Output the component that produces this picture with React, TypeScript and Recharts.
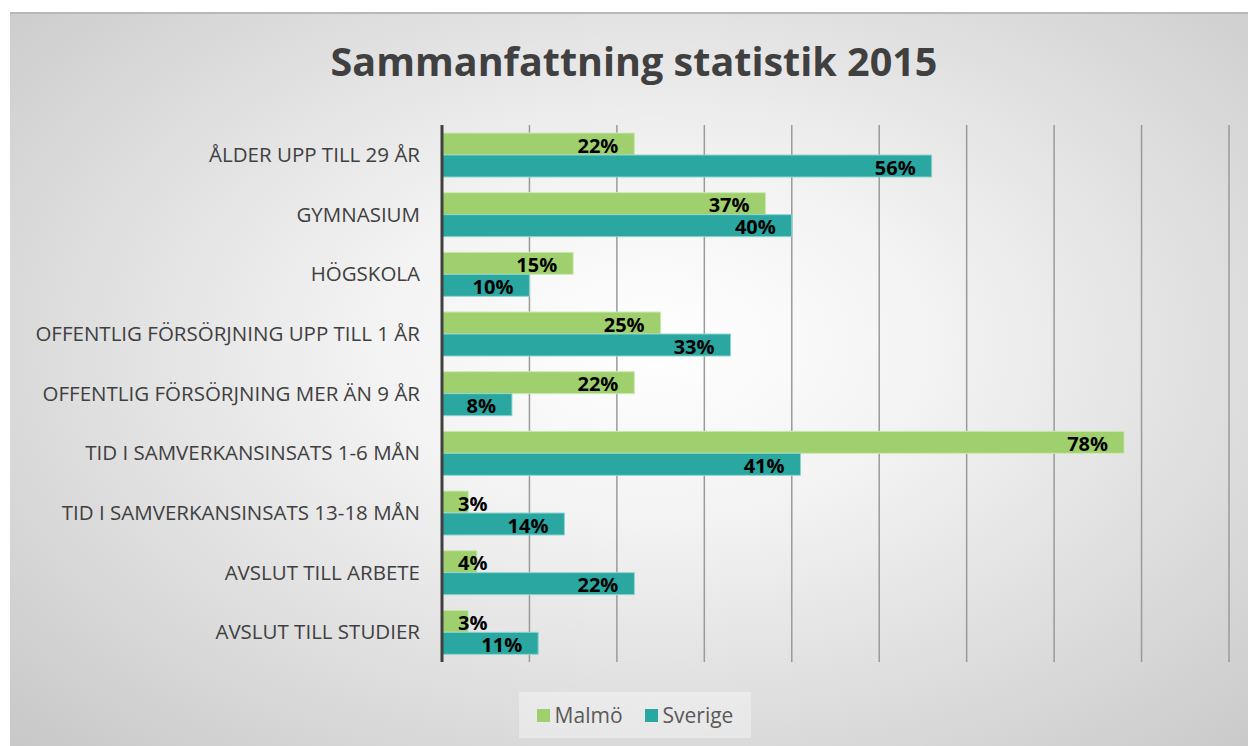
import React from "react";
import {
  BarChart,
  Bar,
  XAxis,
  YAxis,
  CartesianGrid,
  LabelList,
} from "recharts";

const categories = [
  "ÅLDER UPP TILL 29 ÅR",
  "GYMNASIUM",
  "HÖGSKOLA",
  "OFFENTLIG FÖRSÖRJNING UPP TILL 1 ÅR",
  "OFFENTLIG FÖRSÖRJNING MER ÄN 9 ÅR",
  "TID I SAMVERKANSINSATS 1-6 MÅN",
  "TID I SAMVERKANSINSATS 13-18 MÅN",
  "AVSLUT TILL ARBETE",
  "AVSLUT TILL STUDIER",
];
const malmo = [22, 37, 15, 25, 22, 78, 3, 4, 3];
const sverige = [56, 40, 10, 33, 8, 41, 14, 22, 11];
const xTicks = [0, 10, 20, 30, 40, 50, 60, 70, 80, 90];

const GREEN = "#a0d06e";
const TEAL = "#29a7a0";
const FONT = "'Open Sans', sans-serif";

const data = categories.map((name, i) => ({
  name,
  malmo: malmo[i],
  sverige: sverige[i],
}));

// Excel style "inside end" label; small bars push the text to the start
const BarLabel = (props: any) => {
  const { x, y, width, height, value } = props;
  const text = `${value}%`;
  const textW = text.length * 14;
  const inside = width >= textW + 32;
  return (
    <text
      x={inside ? x + width - 16 : x + 16}
      y={y + height / 2 + 1}
      textAnchor={inside ? "end" : "start"}
      dominantBaseline="central"
      fontFamily={FONT}
      fontWeight={700}
      fontSize={20}
      fill="#000"
    >
      {text}
    </text>
  );
};

const legendItems = [
  { label: "Malmö", color: GREEN },
  { label: "Sverige", color: TEAL },
];

export default function App() {
  return (
    <div
      style={{
        position: "absolute",
        left: 0,
        top: 0,
        width: 1248,
        height: 746,
        background: "#fff",
        overflow: "hidden",
      }}
    >
      <div
        style={{
          position: "absolute",
          left: 10,
          top: 12,
          width: 1238,
          height: 734,
          borderTop: "2px solid #b8b8b8",
          background:
            "radial-gradient(ellipse 75% 80% at 52% 45%, #ffffff 0%, #f3f3f3 30%, #c6c6c6 100%)",
        }}
      />
      <div
        style={{
          position: "absolute",
          left: 0,
          top: 34,
          width: 1268,
          textAlign: "center",
          fontFamily: FONT,
          fontWeight: 700,
          fontSize: 39.5,
          color: "#404040",
        }}
      >
        Sammanfattning statistik 2015
      </div>
      <div style={{ position: "absolute", left: 0, top: 0 }}>
        <BarChart
          width={1248}
          height={746}
          data={data}
          layout="vertical"
          margin={{ top: 125, right: 19, bottom: 84, left: 0 }}
          barGap={0}
          barSize={22}
        >
          <CartesianGrid
            horizontal={false}
            vertical={true}
            stroke="#9a9a9a"
            strokeWidth={1.5}
          />
          <XAxis type="number" domain={[0, 90]} ticks={xTicks} hide />
          <YAxis
            type="category"
            dataKey="name"
            width={442}
            tickLine={false}
            tickSize={0}
            tickMargin={22}
            axisLine={{ stroke: "#404040", strokeWidth: 3 }}
            tick={{ fontFamily: FONT, fontSize: 20.5, fill: "#404040" }}
            interval={0}
          />
          <Bar
            dataKey="malmo"
            name="Malmö"
            fill={GREEN}
            stroke="#cde9b3"
            strokeWidth={1}
            isAnimationActive={false}
          >
            <LabelList dataKey="malmo" content={<BarLabel />} />
          </Bar>
          <Bar
            dataKey="sverige"
            name="Sverige"
            fill={TEAL}
            stroke="#8fd3ce"
            strokeWidth={1}
            isAnimationActive={false}
          >
            <LabelList dataKey="sverige" content={<BarLabel />} />
          </Bar>
        </BarChart>
      </div>
      <div
        style={{
          position: "absolute",
          left: 519,
          top: 692,
          width: 232,
          height: 46,
          background: "rgba(255,255,255,0.35)",
          display: "flex",
          justifyContent: "center",
          alignItems: "center",
          gap: 22,
          fontFamily: FONT,
          fontSize: 21,
          color: "#595959",
        }}
      >
        {legendItems.map((it) => (
          <span key={it.label} style={{ display: "flex", alignItems: "center" }}>
            <span
              style={{
                width: 13,
                height: 13,
                background: it.color,
                display: "inline-block",
                marginRight: 5,
              }}
            />
            {it.label}
          </span>
        ))}
      </div>
    </div>
  );
}
